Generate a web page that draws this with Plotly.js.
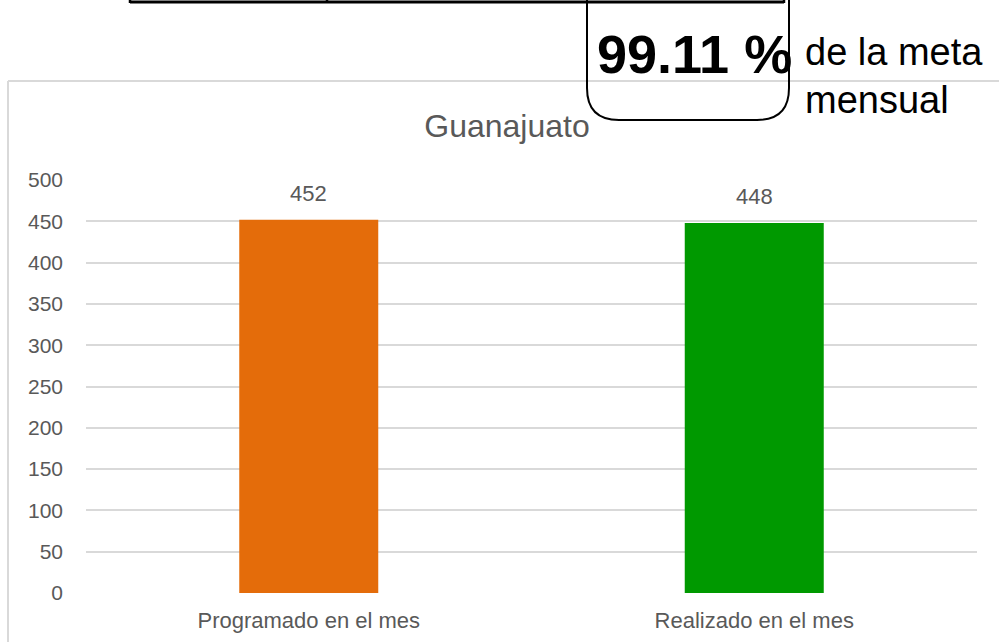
<!DOCTYPE html>
<html>
<head>
<meta charset="utf-8">
<script src="https://cdn.plot.ly/plotly-3.0.1.min.js"></script>
<style>html,body{margin:0;padding:0;background:#fff;}#chart{width:999px;height:642px;}</style>
</head>
<body>
<div id="chart"></div>
<script>
// Data
const categories = ["Programado en el mes", "Realizado en el mes"];
const values = [452, 448];
const barColors = ["#E46C0A", "#009900"];
const chartTitle = "Guanajuato";
const percentText = "99.11 %";
const noteLines = ["de la meta", "mensual"];
const yTicks = [0, 50, 100, 150, 200, 250, 300, 350, 400, 450, 500];

// layout geometry (pixels)
const W = 999, H = 642;
const L = 86, R = 22, T = 180, B = 49;
const pw = W - L - R, ph = H - T - B;
const px = x => (x - L) / pw;
const py = y => (H - B - y) / ph;

const font = '"Liberation Sans", Arial, sans-serif';

const trace = {
  type: 'bar',
  x: categories,
  y: values,
  marker: {color: barColors},
  hoverinfo: 'none'
};

const shapes = [];
const line = (x0, y0, x1, y1, color, w) => shapes.push({
  type: 'line', xref: 'paper', yref: 'paper',
  x0: px(x0), y0: py(y0), x1: px(x1), y1: py(y1),
  line: {color: color, width: w}
});
// outer chart frame
line(8, 81, 1010, 81, '#d9d9d9', 2);
line(8, 81, 8, 660, '#d9d9d9', 2);
// table fragment at top
line(130, 2, 784, 2, '#000', 3);
line(130, -10, 130, 3, '#000', 2.5);
line(327, -10, 327, 3, '#000', 2.5);
line(784, -10, 784, 3, '#000', 2.5);
// rounded box
const bx0 = 587, bx1 = 789, by0 = -20, by1 = 120, r = 32;
shapes.push({
  type: 'path', xref: 'paper', yref: 'paper',
  path: `M ${px(bx0)},${py(by0)} L ${px(bx0)},${py(by1 - r)} Q ${px(bx0)},${py(by1)} ${px(bx0 + r)},${py(by1)} ` +
        `L ${px(bx1 - r)},${py(by1)} Q ${px(bx1)},${py(by1)} ${px(bx1)},${py(by1 - r)} L ${px(bx1)},${py(by0)}`,
  line: {color: '#000', width: 2}
});

const annotations = [];
categories.forEach((c, i) => annotations.push({
  x: c, y: values[i], xref: 'x', yref: 'y',
  text: String(values[i]), showarrow: false,
  yanchor: 'bottom', yshift: 12,
  font: {family: font, size: 22, color: '#595959'}
}));
annotations.push({
  xref: 'paper', yref: 'paper', x: px(595), y: py(54),
  xanchor: 'left', yanchor: 'middle', showarrow: false,
  text: '<b>' + percentText + '</b>',
  font: {family: font, size: 54, color: '#000'}
});
annotations.push({
  xref: 'paper', yref: 'paper', x: px(803), y: py(52),
  xanchor: 'left', yanchor: 'middle', showarrow: false,
  text: noteLines[0],
  font: {family: font, size: 38, color: '#000'}
});
annotations.push({
  xref: 'paper', yref: 'paper', x: px(803), y: py(100),
  xanchor: 'left', yanchor: 'middle', showarrow: false,
  text: noteLines[1],
  font: {family: font, size: 38, color: '#000'}
});

const layout = {
  width: W, height: H,
  margin: {l: L, r: R, t: T, b: B, pad: 0},
  paper_bgcolor: '#fff', plot_bgcolor: '#fff',
  showlegend: false,
  bargap: 0.688,
  title: {
    text: chartTitle, xref: 'paper', x: px(507), xanchor: 'center',
    yref: 'container', y: 1 - 126 / H, yanchor: 'middle',
    font: {family: font, size: 32, color: '#595959'}
  },
  xaxis: {
    type: 'category', showgrid: false, zeroline: false, showline: false,
    ticks: '', ticklabelstandoff: 12,
    tickfont: {family: font, size: 22, color: '#595959'},
    fixedrange: true
  },
  yaxis: {
    range: [0, 500], tickvals: yTicks, ticktext: yTicks.map(String),
    showgrid: true, gridcolor: '#d9d9d9', gridwidth: 2,
    zeroline: false, showline: false, ticks: '', ticklabelstandoff: 22,
    tickfont: {family: font, size: 21, color: '#595959'},
    fixedrange: true
  },
  shapes: shapes,
  annotations: annotations
};

Plotly.newPlot('chart', [trace], layout, {displayModeBar: false, staticPlot: true});
</script>
</body>
</html>
